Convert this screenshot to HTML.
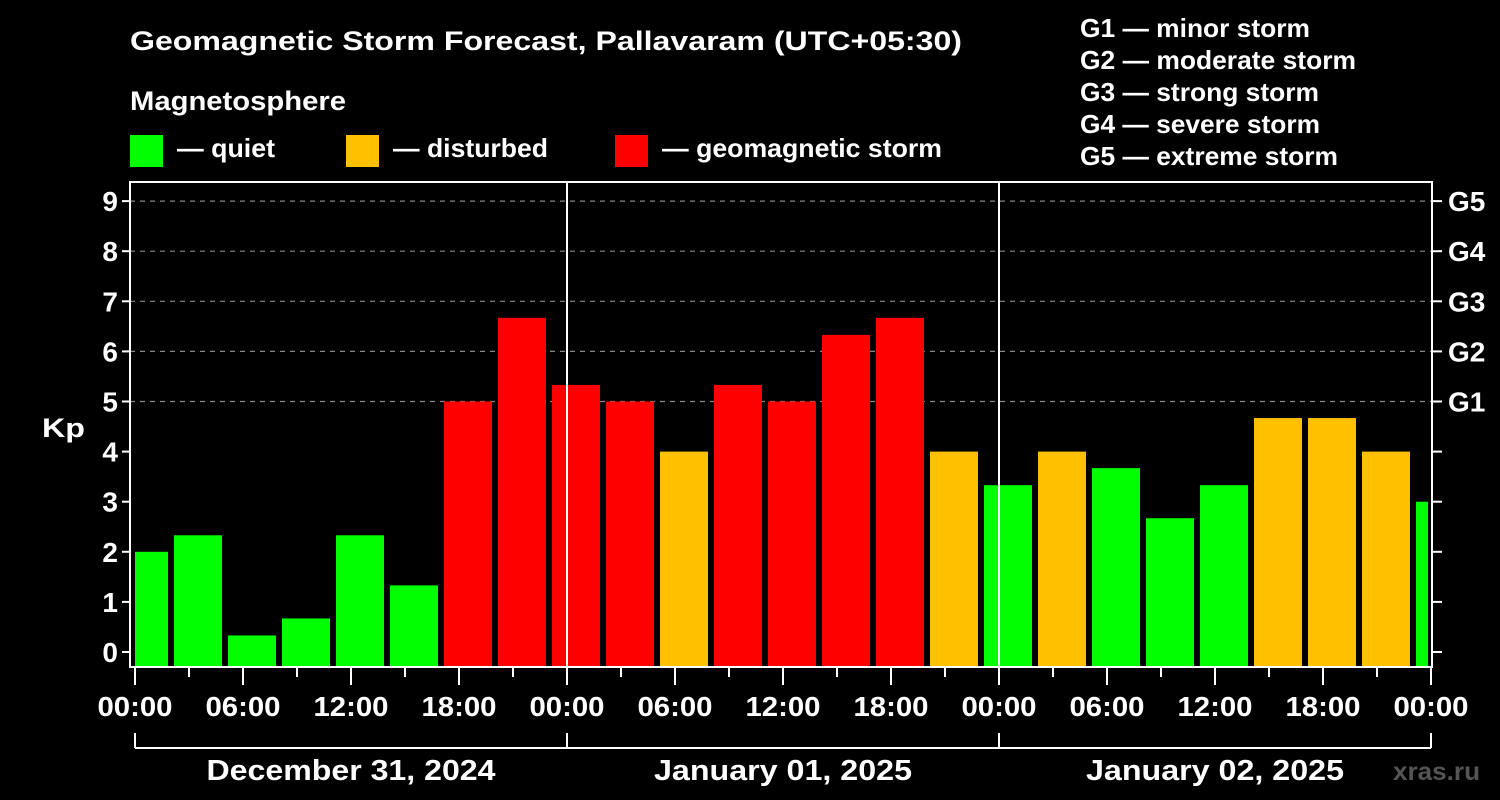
<!DOCTYPE html>
<html><head><meta charset="utf-8"><style>
html,body{margin:0;padding:0;background:#000;}
svg{display:block;font-family:"Liberation Sans",Arial,sans-serif;font-weight:bold;}
</style></head><body>
<svg id="chart" width="1500" height="800" viewBox="0 0 1500 800">
<rect width="1500" height="800" fill="#000"/>
<text x="130" y="50" font-size="27" fill="#fff" textLength="832" lengthAdjust="spacingAndGlyphs">Geomagnetic Storm Forecast, Pallavaram (UTC+05:30)</text>
<text x="130" y="110" font-size="27" fill="#fff" textLength="216" lengthAdjust="spacingAndGlyphs">Magnetosphere</text>
<g><rect x="130" y="135" width="33" height="32" fill="#00ff00"/><text x="177" y="157" font-size="26" fill="#fff" textLength="98" lengthAdjust="spacingAndGlyphs">— quiet</text></g>
<g><rect x="346" y="135" width="33" height="32" fill="#ffc000"/><text x="393" y="157" font-size="26" fill="#fff" textLength="155" lengthAdjust="spacingAndGlyphs">— disturbed</text></g>
<g><rect x="615" y="135" width="33" height="32" fill="#ff0000"/><text x="662" y="157" font-size="26" fill="#fff" textLength="280" lengthAdjust="spacingAndGlyphs">— geomagnetic storm</text></g>
<g font-size="26" fill="#fff">
<text x="1080" y="37" textLength="230" lengthAdjust="spacingAndGlyphs">G1 — minor storm</text>
<text x="1080" y="69" textLength="276" lengthAdjust="spacingAndGlyphs">G2 — moderate storm</text>
<text x="1080" y="101" textLength="239" lengthAdjust="spacingAndGlyphs">G3 — strong storm</text>
<text x="1080" y="133" textLength="240" lengthAdjust="spacingAndGlyphs">G4 — severe storm</text>
<text x="1080" y="165" textLength="258" lengthAdjust="spacingAndGlyphs">G5 — extreme storm</text>
</g>
<text x="42" y="437" font-size="27" fill="#fff" textLength="43" lengthAdjust="spacingAndGlyphs">Kp</text>
<text x="1393" y="780" font-size="25" fill="#555" textLength="87" lengthAdjust="spacingAndGlyphs">xras.ru</text>
<g id="plot"></g>
</svg>
<script>
const kpValues=[2,2.33,0.33,0.67,2.33,1.33,5,6.67,5.33,5,4,5.33,5,6.33,6.67,4,3.33,4,3.67,2.67,3.33,4.67,4.67,4,3];
const yTicks=[0,1,2,3,4,5,6,7,8,9];
const gLabels=["G1","G2","G3","G4","G5"];
const xTickLabels=["00:00","06:00","12:00","18:00","00:00","06:00","12:00","18:00","00:00","06:00","12:00","18:00","00:00"];
const dayLabels=["December 31, 2024","January 01, 2025","January 02, 2025"];
const firstBinHour=-1;

const NS="http://www.w3.org/2000/svg";
const g=document.getElementById('plot');
const L=130,R=1432,T=182,B=667,X0=135,PXH=18;
const xs=h=>X0+h*PXH;
const ys=v=>652-v*50.1;
function el(t,a,p){const e=document.createElementNS(NS,t);for(const k in a)e.setAttribute(k,a[k]);(p||g).appendChild(e);return e;}
for(const v of yTicks){if(v>=5){const ln=el('line',{x1:L,x2:R,y1:ys(v),y2:ys(v),stroke:'#888','stroke-width':1.2,'stroke-dasharray':'5,5'});

}}
kpValues.forEach((v,i)=>{
 const h0=firstBinHour+i*3;
 let x1=xs(h0)+3,x2=xs(h0+3)-3;
 x1=Math.max(x1,L+5);x2=Math.min(x2,R-4);
 const c=v>=5?'#ff0000':(v>=4?'#ffc000':'#00ff00');
 const r=el('rect',{x:x1,y:ys(v),width:x2-x1,height:B-ys(v),fill:c});
 
 
});
for(const d of [1,2]){const ln=el('line',{x1:xs(d*24),x2:xs(d*24),y1:T,y2:B,stroke:'#fff','stroke-width':2});

}
const fr=el('rect',{x:L,y:T,width:R-L,height:B-T,fill:'none',stroke:'#fff','stroke-width':2});


yTicks.forEach(v=>{
 el('line',{x1:L-8,x2:L,y1:ys(v),y2:ys(v),stroke:'#fff','stroke-width':2});
 el('line',{x1:R,x2:R+10,y1:ys(v),y2:ys(v),stroke:'#fff','stroke-width':2});
 const t=el('text',{x:L-12,y:ys(v)+10,'text-anchor':'end','font-size':28,fill:'#fff'});t.textContent=v;
 
 
});
gLabels.forEach((s,i)=>{
 const t=el('text',{x:1448,y:ys(5+i)+10,'font-size':28,fill:'#fff'});t.textContent=s;
 
 
});
for(let h=0;h<=72;h+=3){
 const major=h%6===0;
 el('line',{x1:xs(h),x2:xs(h),y1:B,y2:major?685:677,stroke:'#fff','stroke-width':2});
}
xTickLabels.forEach((s,i)=>{
 const t=el('text',{x:xs(i*6),y:716,'text-anchor':'middle','font-size':28,fill:'#fff',textLength:75,lengthAdjust:'spacingAndGlyphs'});t.textContent=s;
 
 
});
el('line',{x1:xs(0),x2:xs(72),y1:748,y2:748,stroke:'#fff','stroke-width':2});
for(let d=0;d<=3;d++)el('line',{x1:xs(d*24),x2:xs(d*24),y1:733,y2:748,stroke:'#fff','stroke-width':2});
const dayLens=[289,258,258];
dayLabels.forEach((s,i)=>{
 const t=el('text',{x:xs(i*24+12),y:780,'text-anchor':'middle','font-size':29,fill:'#fff',textLength:dayLens[i],lengthAdjust:'spacingAndGlyphs'});t.textContent=s;
 
 
});
</script>
</body></html>
